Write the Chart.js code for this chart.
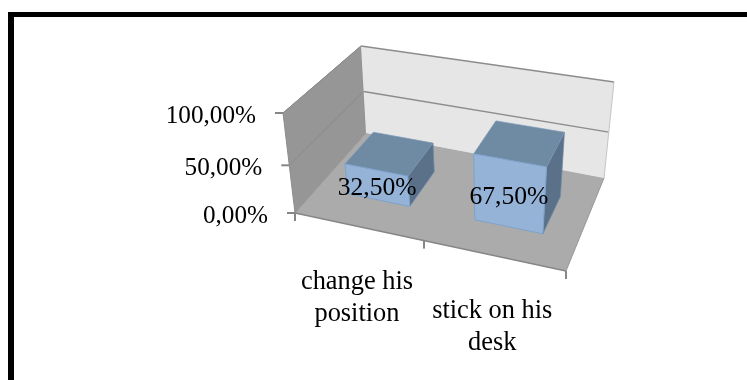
<!DOCTYPE html>
<html>
<head>
<meta charset="utf-8">
<title>chart</title>
<script src="https://cdn.jsdelivr.net/npm/chart.js@4/dist/chart.umd.min.js"></script>
<style>
    html, body { margin: 0; padding: 0; background: #fff; overflow: hidden; }
    #wrap { position: relative; width: 747px; height: 380px; }
    #edgeTop { position: absolute; left: 8px; right: 0; top: 12px; height: 5px; background: #000; }
    #edgeLeft { position: absolute; left: 8px; top: 12px; bottom: 0; width: 6px; background: #000; }
    canvas { position: absolute; left: 0; top: 0; }
</style>
</head>
<body>
<div id="wrap">
    <canvas id="answers" width="747" height="380"></canvas>
    <div id="edgeTop"></div>
    <div id="edgeLeft"></div>
</div>
<script>
const categories = [["change his", "position"], ["stick on his", "desk"]];
const answerShare = [32.5, 67.5];
const axisMax = 100;
const axisStep = 50;

// the box the bars stand in: order is front-left, front-right, back-right, back-left
const floorCorners = [[295, 213], [566, 271], [604, 178], [366, 133]];
const roofCorners = [[283, 113], [576, 166], [614, 82], [361, 46]];
const barDepth = [0.29, 0.70];
const heightWarp = 0.912;
const widthWarp = 0.974;

function squareToQuad(q) {
    let dx1 = q[1][0] - q[2][0], dx2 = q[3][0] - q[2][0], sx = q[0][0] - q[1][0] + q[2][0] - q[3][0];
    let dy1 = q[1][1] - q[2][1], dy2 = q[3][1] - q[2][1], sy = q[0][1] - q[1][1] + q[2][1] - q[3][1];
    let den = dx1 * dy2 - dx2 * dy1;
    let g = (sx * dy2 - dx2 * sy) / den;
    let h = (dx1 * sy - sx * dy1) / den;
    return function (u, d) {
        let w = 1 + g * u + h * d;
        return [
            (q[0][0] + (q[1][0] - q[0][0] + g * q[1][0]) * u + (q[3][0] - q[0][0] + h * q[3][0]) * d) / w,
            (q[0][1] + (q[1][1] - q[0][1] + g * q[1][1]) * u + (q[3][1] - q[0][1] + h * q[3][1]) * d) / w
        ];
    };
}

const onFloor = squareToQuad(floorCorners);
const onRoof = squareToQuad(roofCorners);

function warp(t, k) {
    return k * t / (1 + (k - 1) * t);
}

function project(u, d, z) {
    let s = warp(z, heightWarp), v = warp(u, widthWarp);
    let a = onFloor(v, d), b = onRoof(v, d);
    return [a[0] + (b[0] - a[0]) * s, a[1] + (b[1] - a[1]) * s];
}

function face(ctx, pts, fill, stroke, lw) {
    ctx.beginPath();
    pts.forEach(function (p, i) {
        if (i === 0) ctx.moveTo(p[0], p[1]); else ctx.lineTo(p[0], p[1]);
    });
    ctx.closePath();
    if (fill) { ctx.fillStyle = fill; ctx.fill(); }
    if (stroke) { ctx.strokeStyle = stroke; ctx.lineWidth = lw || 1; ctx.stroke(); }
}

function line(ctx, a, b, color, lw) {
    ctx.beginPath();
    ctx.moveTo(a[0], a[1]);
    ctx.lineTo(b[0], b[1]);
    ctx.strokeStyle = color;
    ctx.lineWidth = lw;
    ctx.stroke();
}

const boxPlugin = {
    id: "box3d",
    afterDatasetsDraw(chart) {
        const ctx = chart.ctx, area = chart.chartArea;
        const xs = chart.scales.x, ys = chart.scales.y;
        const toU = function (px) { return (px - area.left) / area.width; };
        const toZ = function (py) { return (area.bottom - py) / area.height; };
        ctx.save();
        ctx.lineJoin = "round";

        // walls and floor
        face(ctx, [project(0, 0, 0), project(0, 1, 0), project(0, 1, 1), project(0, 0, 1)], "#969696", "#8c8c8c", 1);
        face(ctx, [project(0, 1, 0), project(1, 1, 0), project(1, 1, 1), project(0, 1, 1)], "#e6e6e6");
        face(ctx, [project(0, 0, 0), project(1, 0, 0), project(1, 1, 0), project(0, 1, 0)], "#ababab");

        // value axis: grid on the walls, ticks and labels at the front
        ctx.font = '25.2px "Liberation Serif"';
        ctx.textBaseline = "middle";
        ys.ticks.forEach(function (t) {
            let z = toZ(ys.getPixelForValue(t.value));
            let front = project(0, 0, z), back = project(0, 1, z), right = project(1, 1, z);
            if (z > 0) {
                line(ctx, front, back, "#8a8a8a", 1);
                line(ctx, back, right, "#8c8c8c", 1.3);
            }
            line(ctx, [front[0] - 8, front[1]], front, "#868686", 2);
            ctx.fillStyle = "#000";
            ctx.textAlign = "right";
            ctx.fillText(t.label, front[0] - 27, front[1] + 3);
        });
        line(ctx, project(0, 0, 0), project(0, 1, 0), "#9a9a9a", 1);
        line(ctx, project(0, 0, 0), project(1, 0, 0), "#868686", 1.3);
        line(ctx, project(1, 0, 0), project(1, 1, 0), "#969696", 1);
        line(ctx, project(1, 1, 0), project(1, 1, 1), "#c4c4c4", 1);

        // category axis
        ctx.font = '26.4px "Liberation Serif"';
        xs.ticks.forEach(function (t, i) {
            let u = toU(xs.getPixelForTick(i));
            let p = project(u, 0, 0);
            ctx.textAlign = "center";
            ctx.textBaseline = "middle";
            ctx.fillStyle = "#000";
            t.label.forEach(function (txt, k) {
                ctx.fillText(txt, p[0] - 1, p[1] + 56 + k * 31.5);
            });
        });
        [0, 0.5, 1].forEach(function (u) {
            let p = project(u, 0, 0);
            line(ctx, p, [p[0], p[1] + 8], "#868686", 2);
        });

        // bars, read back from the chart's own elements
        let labelSpots = [];
        chart.getDatasetMeta(0).data.forEach(function (bar) {
            let u0 = toU(bar.x - bar.width / 2), u1 = toU(bar.x + bar.width / 2);
            let z = toZ(bar.y);
            let d0 = barDepth[0], d1 = barDepth[1];
            face(ctx, [project(u1, d0, 0), project(u1, d1, 0), project(u1, d1, z), project(u1, d0, z)], "#5a7189", "#6d8aa8", 0.7);
            face(ctx, [project(u0, d0, z), project(u1, d0, z), project(u1, d1, z), project(u0, d1, z)], "#6f8aa3", "#7b97b4", 0.7);
            face(ctx, [project(u0, d0, 0), project(u1, d0, 0), project(u1, d0, z), project(u0, d0, z)], "#95b3d7", "#7ea3cc", 1);
            labelSpots.push(project((u0 + u1) / 2, d0, z / 2));
        });

        // value labels go on top of everything
        ctx.font = '25.6px "Liberation Serif"';
        ctx.textAlign = "center";
        ctx.textBaseline = "middle";
        ctx.fillStyle = "#000";
        answerShare.forEach(function (v, i) {
            ctx.fillText(v.toFixed(2).replace(".", ",") + "%", labelSpots[i][0], labelSpots[i][1] + 3);
        });
        ctx.restore();
    }
};

new Chart(document.getElementById("answers"), {
    type: "bar",
    data: {
        labels: categories,
        datasets: [{
            data: answerShare,
            backgroundColor: "rgba(0,0,0,0)",
            barPercentage: 0.5,
            categoryPercentage: 1
        }]
    },
    options: {
        responsive: false,
        animation: false,
        layout: { padding: 0 },
        plugins: { legend: { display: false }, tooltip: { enabled: false } },
        scales: {
            x: { display: false },
            y: {
                display: false,
                min: 0,
                max: axisMax,
                ticks: {
                    stepSize: axisStep,
                    callback: function (v) { return v.toFixed(2).replace(".", ",") + "%"; }
                }
            }
        }
    },
    plugins: [boxPlugin]
});
</script>
</body>
</html>
